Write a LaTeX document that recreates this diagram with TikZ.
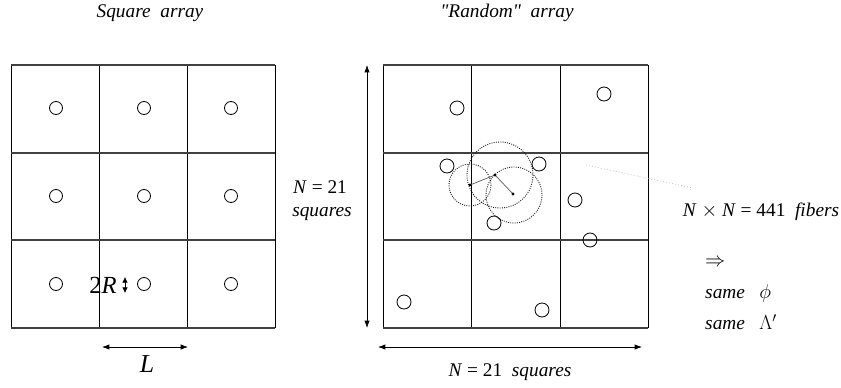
\documentclass[tikz,border=0pt]{standalone}
\usepackage{fontspec}
\setmainfont{Liberation Serif}
\usetikzlibrary{arrows.meta}
\begin{document}
\begin{tikzpicture}[x=0.03cm,y=-0.03cm,
  cell/.style={line width=0.8pt,draw=black},
  rowline/.style={line width=1.1pt,draw=black!75},
  fiber/.style={line width=0.7pt,draw=black},
  dimarrow/.style={line width=0.6pt,{Latex[length=2.2mm,width=1.6mm]}-{Latex[length=2.2mm,width=1.6mm]}},
  influence/.style={draw=black!90,dash pattern=on 0.8pt off 1.1pt,line width=0.75pt},
  lbl/.style={font=\fontsize{16.5}{19}\selectfont\itshape,inner sep=0pt}]
\useasboundingbox (0,0) rectangle (841,387);
% left square grid
\draw[cell] (11,65) -- (11,328) (275,65) -- (275,328);
\draw[cell] (99,65) -- (99,328) (187,65) -- (187,328);
\draw[rowline] (11,65) -- (275,65) (11,153) -- (275,153) (11,240) -- (275,240) (11,328) -- (275,328);
\foreach \x in {56,144,231}
  \foreach \y in {108,196,284}
    \draw[fiber] (\x,\y) circle (6.5);
% right random grid
\draw[cell] (383,65) -- (383,328) (648,65) -- (648,328);
\draw[cell] (471,65) -- (471,328) (560,65) -- (560,328);
\draw[rowline] (383,65) -- (648,65) (383,153) -- (648,153) (383,240) -- (648,240) (383,328) -- (648,328);
\foreach \x/\y in {457/108,604/94,447/166,539/164,575/200,494/223,590/240,404/302,542/310}
  \draw[fiber] (\x,\y) circle (7);
% dotted interaction circles
\draw[influence] (470,185) circle (21);
\draw[influence] (500,175) circle (33);
\draw[influence] (514,195) circle (28);
\coordinate (c1) at (470,185);
\coordinate (c2) at (495,175);
\coordinate (c3) at (513,194);
\draw[black!65,line width=0.6pt] (c1) -- (c2) -- (c3);
\foreach \p in {c1,c2,c3} \fill (\p) circle (1.6);
% leader line
\coordinate (lead1) at (586,165);
\coordinate (lead2) at (693,188);
\draw[gray!70,dotted,line width=0.6pt] (lead1) -- (lead2);
% arrows
\coordinate (va) at (367,65);
\coordinate (vb) at (367,328);
\draw[dimarrow] (va) -- (vb);
\coordinate (ha) at (378,347);
\coordinate (hb) at (642,347);
\draw[dimarrow] (ha) -- (hb);
\coordinate (la) at (102,347);
\coordinate (lb) at (188,347);
\draw[dimarrow] (la) -- (lb);
\coordinate (ra) at (125,277);
\coordinate (rb) at (125,293);
\draw[line width=0.6pt,{Latex[length=1.7mm,width=1.7mm]}-{Latex[length=1.7mm,width=1.7mm]}] (ra) -- (rb);
% texts
\node[lbl] (t1) at (150,13) {Square\ \ array};
\node[lbl] (t2) at (507,13) {\textquotedbl Random\textquotedbl\ \ array};
\node[lbl,font=\fontsize{16.5}{19}\selectfont] (n1) at (320,187) {\textit{N} = 21};
\node[lbl] (n2) at (322,214) {squares};
\node[lbl,font=\fontsize{16.5}{19}\selectfont] (nn) at (761,212) {\textit{N} $\times$ \textit{N} = 441\ \ \textit{fibers}};
\node[lbl,anchor=west] (imp) at (705,263) {$\Rightarrow$};
\node[lbl,anchor=west] (s1) at (705,293) {same\ \ \ $\phi$};
\node[lbl,anchor=west] (s2) at (705,322) {same\ \ \ $\Lambda'$};
\node[lbl,font=\fontsize{16.5}{19}\selectfont] (n3) at (510,372) {\textit{N} = 21\ \ \textit{squares}};
\node[lbl,font=\fontsize{22}{24}\selectfont\itshape] (L) at (147,364) {L};
\node[lbl,font=\fontsize{21}{23}\selectfont] (R) at (103,285) {2\textit{R}};
\end{tikzpicture}
\end{document}
